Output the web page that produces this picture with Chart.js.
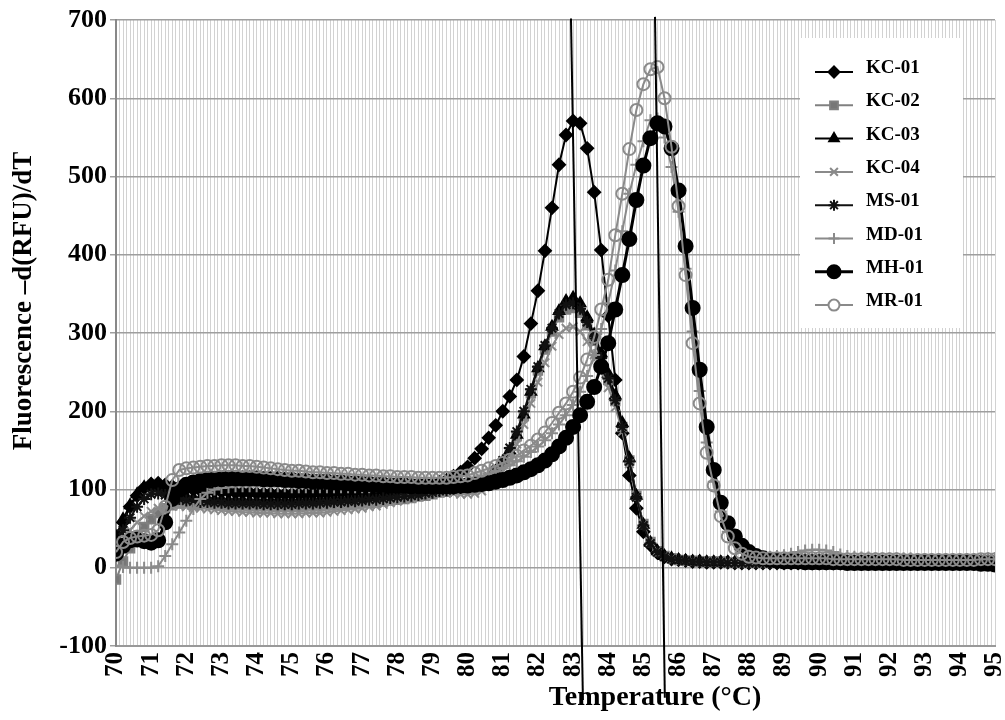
<!DOCTYPE html>
<html>
<head>
<meta charset="utf-8">
<script src="https://cdn.jsdelivr.net/npm/chart.js@4"></script>
<style>
  html, body { margin: 0; padding: 0; background: #fff; }
  #wrap { width: 1005px; height: 720px; }
</style>
</head>
<body>
<div id="wrap"><canvas id="meltChart" width="1005" height="720"></canvas></div>
<script>
  /* temperature steps (°C) */
  const temps = [
    70.0, 70.2, 70.4, 70.6, 70.8, 71.0, 71.2, 71.4, 71.6, 71.8,
    72.0, 72.2, 72.4, 72.6, 72.8, 73.0, 73.2, 73.4, 73.6, 73.8,
    74.0, 74.2, 74.4, 74.6, 74.8, 75.0, 75.2, 75.4, 75.6, 75.8,
    76.0, 76.2, 76.4, 76.6, 76.8, 77.0, 77.2, 77.4, 77.6, 77.8,
    78.0, 78.2, 78.4, 78.6, 78.8, 79.0, 79.2, 79.4, 79.6, 79.8,
    80.0, 80.2, 80.4, 80.6, 80.8, 81.0, 81.2, 81.4, 81.6, 81.8,
    82.0, 82.2, 82.4, 82.6, 82.8, 83.0, 83.2, 83.4, 83.6, 83.8,
    84.0, 84.2, 84.4, 84.6, 84.8, 85.0, 85.2, 85.4, 85.6, 85.8,
    86.0, 86.2, 86.4, 86.6, 86.8, 87.0, 87.2, 87.4, 87.6, 87.8,
    88.0, 88.2, 88.4, 88.6, 88.8, 89.0, 89.2, 89.4, 89.6, 89.8,
    90.0, 90.2, 90.4, 90.6, 90.8, 91.0, 91.2, 91.4, 91.6, 91.8,
    92.0, 92.2, 92.4, 92.6, 92.8, 93.0, 93.2, 93.4, 93.6, 93.8,
    94.0, 94.2, 94.4, 94.6, 94.8, 95.0
  ];

  // -d(RFU)/dT per sample
  const kc01 = [
    35, 58, 78, 92, 102, 107, 108, 106, 104, 102,
    101, 100, 99, 98, 98, 97, 97, 96, 96, 96,
    95, 95, 95, 94, 94, 94, 94, 94, 95, 95,
    95, 96, 96, 97, 97, 98, 98, 99, 99, 100,
    100, 101, 101, 102, 104, 106, 109, 112, 117, 122,
    129, 140, 152, 166, 182, 200, 219, 240, 270, 312,
    354, 405, 460, 515, 553, 571, 568, 536, 480, 406,
    322, 240, 172, 118, 76, 46, 29, 19, 14, 11,
    10, 9, 8, 8, 7, 7, 7, 7, 6, 6,
    6, 6, 6, 6, 6, 6, 6, 6, 6, 6,
    6, 6, 6, 6, 7, 7, 7, 7, 7, 7,
    7, 7, 7, 8, 8, 8, 8, 8, 8, 8,
    8, 8, 8, 8, 8, 8
  ];
  const kc02 = [
    -15, 8, 25, 40, 52, 62, 70, 76, 80, 82,
    83, 83, 82, 82, 81, 81, 80, 80, 80, 79,
    79, 79, 79, 78, 78, 78, 78, 79, 79, 79,
    80, 80, 81, 81, 82, 83, 83, 84, 85, 86,
    87, 88, 89, 91, 92, 94, 96, 97, 99, 100,
    102, 104, 108, 114, 122, 133, 148, 168, 194, 223,
    252, 279, 302, 320, 330, 332, 326, 310, 290, 266,
    240, 213, 180, 137, 92, 56, 33, 21, 15, 12,
    10, 9, 9, 8, 8, 8, 8, 7, 7, 7,
    7, 7, 7, 7, 7, 7, 7, 7, 7, 7,
    8, 8, 8, 8, 8, 8, 8, 8, 8, 8,
    8, 8, 8, 8, 8, 9, 9, 9, 9, 9,
    9, 9, 9, 9, 9, 9
  ];
  const kc03 = [
    40, 62, 80, 94, 103, 106, 102, 97, 94, 92,
    90, 89, 88, 88, 87, 87, 86, 86, 86, 85,
    85, 85, 85, 85, 85, 85, 85, 86, 86, 86,
    87, 87, 88, 88, 89, 89, 90, 90, 91, 92,
    92, 93, 94, 95, 96, 97, 98, 99, 100, 101,
    102, 105, 109, 115, 123, 135, 150, 170, 196, 225,
    255, 283, 308, 328, 341, 345, 338, 320, 298, 274,
    248, 220, 185, 140, 92, 55, 32, 21, 15, 12,
    10, 9, 8, 8, 7, 7, 7, 7, 7, 7,
    7, 7, 7, 7, 7, 7, 7, 7, 7, 7,
    7, 7, 7, 7, 7, 8, 8, 8, 8, 8,
    8, 8, 8, 8, 8, 8, 9, 9, 9, 9,
    9, 9, 9, 9, 9, 9
  ];
  const kc04 = [
    20, 35, 48, 58, 66, 72, 76, 78, 79, 79,
    78, 77, 76, 75, 74, 73, 72, 72, 71, 71,
    70, 70, 70, 69, 69, 69, 69, 70, 70, 70,
    71, 72, 73, 74, 75, 76, 78, 79, 81, 83,
    85, 87, 89, 91, 93, 95, 96, 96, 95, 94,
    94, 95, 98, 104, 112, 123, 138, 158, 183, 210,
    237, 262, 283, 298, 306, 308, 302, 289, 272, 252,
    230, 205, 174, 133, 90, 55, 33, 21, 15, 12,
    10, 9, 9, 8, 8, 8, 8, 8, 7, 7,
    7, 7, 7, 7, 7, 7, 7, 7, 7, 7,
    7, 7, 8, 8, 8, 8, 8, 8, 8, 8,
    8, 8, 8, 8, 8, 8, 8, 8, 9, 9,
    9, 9, 9, 9, 9, 9
  ];
  const ms01 = [
    30, 48, 64, 78, 88, 94, 95, 93, 90, 88,
    86, 85, 84, 84, 83, 83, 82, 82, 82, 82,
    82, 81, 81, 81, 81, 81, 82, 82, 82, 83,
    83, 84, 84, 85, 85, 86, 87, 87, 88, 89,
    90, 91, 92, 93, 95, 96, 98, 99, 101, 102,
    104, 106, 110, 116, 125, 137, 153, 174, 200, 228,
    257, 284, 306, 325, 336, 338, 331, 314, 293, 268,
    242, 214, 180, 136, 90, 54, 31, 20, 14, 11,
    10, 9, 8, 8, 7, 7, 7, 6, 6, 6,
    6, 6, 6, 6, 6, 6, 6, 6, 6, 6,
    6, 6, 6, 6, 6, 6, 6, 7, 7, 7,
    7, 7, 7, 7, 7, 7, 7, 7, 7, 7,
    7, 7, 7, 7, 7, 7
  ];
  const md01 = [
    3, 1, 0, 0, 0, 0, 2, 15, 30, 45,
    60, 75, 88, 96, 100, 102, 103, 104, 104, 104,
    104, 104, 104, 104, 104, 103, 103, 103, 103, 103,
    103, 103, 103, 103, 103, 103, 103, 104, 104, 104,
    105, 105, 106, 106, 107, 108, 109, 110, 111, 112,
    113, 115, 117, 120, 123, 127, 131, 136, 142, 148,
    155, 163, 172, 183, 195, 208, 225, 245, 272, 305,
    338, 380, 430, 478, 515, 545, 572, 574, 550, 512,
    455, 382, 302, 226, 160, 110, 72, 46, 30, 22,
    18, 15, 14, 14, 15, 16, 18, 20, 22, 23,
    23, 22, 20, 17, 15, 14, 13, 13, 12, 12,
    12, 12, 12, 12, 11, 11, 11, 11, 11, 11,
    11, 11, 11, 11, 12, 12
  ];
  const mh01 = [
    18, 28, 35, 36, 34, 32, 35, 58, 88, 100,
    106, 109, 111, 112, 113, 113, 114, 114, 114, 114,
    114, 113, 113, 113, 112, 112, 111, 111, 110, 110,
    110, 109, 109, 108, 108, 107, 107, 106, 106, 105,
    105, 105, 104, 104, 104, 104, 104, 104, 104, 105,
    105, 106, 107, 108, 110, 112, 115, 118, 122, 126,
    131, 137, 145, 155, 166, 180, 195, 212, 231, 257,
    287, 330, 374, 420, 470, 514, 549, 568, 564, 536,
    482, 411, 332, 253, 180, 125, 83, 57, 40, 28,
    20, 15, 12, 10, 9, 8, 8, 8, 7, 7,
    7, 7, 7, 7, 6, 6, 6, 6, 6, 6,
    6, 6, 6, 6, 6, 6, 6, 6, 6, 6,
    6, 6, 6, 5, 5, 4
  ];
  const mr01 = [
    20, 33, 38, 40, 41, 42, 48, 78, 112, 125,
    127, 128, 129, 130, 130, 131, 131, 131, 130, 130,
    129, 128, 127, 126, 125, 124, 124, 123, 122, 122,
    121, 121, 120, 120, 119, 119, 118, 118, 117, 117,
    116, 116, 116, 115, 115, 115, 115, 115, 116, 117,
    118, 121, 124, 127, 130, 134, 138, 143, 150, 156,
    164, 173, 185, 198, 210, 225, 243, 266, 295, 330,
    368, 425, 478, 535, 585, 618, 637, 640, 600, 538,
    462, 374, 287, 210, 147, 105, 66, 40, 25, 18,
    14, 13, 12, 12, 12, 12, 12, 12, 12, 12,
    12, 12, 11, 11, 11, 11, 11, 11, 11, 11,
    11, 11, 10, 10, 10, 10, 10, 10, 10, 10,
    10, 10, 10, 11, 11, 11
  ];

  // hand drawn Tm marker lines (end points, data units)
  const tmLineA = [{ x: 82.94, y: 702 }, { x: 83.28, y: -169 }];
  const tmLineB = [{ x: 85.33, y: 704 }, { x: 85.61, y: -166 }];

  const yTicks = [-100, 0, 100, 200, 300, 400, 500, 600, 700];

  const SERIF = "'Liberation Serif', 'Times New Roman', serif";
  const pts = arr => temps.map((t, i) => ({ x: t, y: arr[i] }));

  const series = [
    { label: 'KC-01', data: kc01, color: '#000', fill: '#000', style: 'rectRot', r: 6, lw: 2 },
    { label: 'KC-02', data: kc02, color: '#808080', fill: '#777', style: 'rect', r: 6, lw: 2 },
    { label: 'KC-03', data: kc03, color: '#000', fill: '#000', style: 'triangle', r: 6, lw: 2 },
    { label: 'KC-04', data: kc04, color: '#8a8a8a', fill: '#8a8a8a', style: 'crossRot', r: 6, lw: 2 },
    { label: 'MS-01', data: ms01, color: '#111', fill: '#111', style: 'star', r: 6, lw: 2 },
    { label: 'MD-01', data: md01, color: '#8a8a8a', fill: '#8a8a8a', style: 'cross', r: 6, lw: 2 },
    { label: 'MH-01', data: mh01, color: '#000', fill: '#000', style: 'circle', r: 7, lw: 3 },
    { label: 'MR-01', data: mr01, color: '#8a8a8a', fill: 'rgba(255,255,255,0)', style: 'circle', r: 6, lw: 2 }
  ];

  const datasets = series.map((s, i) => ({
    label: s.label,
    data: pts(s.data),
    borderColor: s.color,
    borderWidth: s.lw,
    backgroundColor: s.fill,
    pointStyle: s.style,
    pointRadius: s.r,
    pointBackgroundColor: s.fill,
    pointBorderColor: s.color,
    pointBorderWidth: 2,
    tension: 0,
    order: series.length - i
  }));

  [tmLineA, tmLineB].forEach(line => {
    datasets.push({
      label: '',
      data: line,
      borderColor: '#000',
      borderWidth: 2,
      pointRadius: 0,
      clip: false,
      order: -1
    });
  });

  /* legend box + axis titles drawn on canvas */
  const extras = {
    id: 'extras',
    afterDraw(chart) {
      const ctx = chart.ctx;
      ctx.save();

      // legend
      ctx.fillStyle = '#fff';
      ctx.fillRect(800, 38, 163, 290);
      series.forEach((s, i) => {
        const y = 72 + i * 33.3;
        ctx.strokeStyle = s.color;
        ctx.lineWidth = s.lw;
        ctx.beginPath();
        ctx.moveTo(815, y);
        ctx.lineTo(853, y);
        ctx.stroke();
        ctx.fillStyle = s.label === 'MR-01' ? '#fff' : s.fill;
        ctx.lineWidth = 2;
        Chart.helpers.drawPoint(ctx, { pointStyle: s.style, radius: s.r - 0.5, rotation: 0, borderWidth: 2 }, 834, y);
        ctx.fillStyle = '#000';
        ctx.font = 'bold 19px ' + SERIF;
        ctx.textAlign = 'left';
        ctx.textBaseline = 'alphabetic';
        ctx.fillText(s.label, 866, y + 1);
      });

      // axis titles
      ctx.fillStyle = '#000';
      ctx.textAlign = 'center';
      ctx.textBaseline = 'middle';
      ctx.font = 'bold 28px ' + SERIF;
      ctx.fillText('Temperature (°C)', 655, 698);
      ctx.translate(24, 301);
      ctx.rotate(-Math.PI / 2);
      ctx.font = 'bold 27px ' + SERIF;
      ctx.fillText('Fluorescence \u2013d(RFU)/dT', 0, 0);
      ctx.restore();
    }
  };

  const ctx = document.getElementById('meltChart').getContext('2d');
  new Chart(ctx, {
    type: 'line',
    data: { datasets },
    options: {
      responsive: false,
      animation: false,
      layout: { padding: { left: 0, right: 10, top: 20, bottom: 0 } },
      plugins: {
        legend: { display: false },
        tooltip: { enabled: false }
      },
      scales: {
        x: {
          type: 'linear',
          min: 70,
          max: 95,
          afterFit: scale => {
            scale.height = 74;
            scale.paddingLeft = 0;
            scale.paddingRight = 0;
          },
          border: { color: '#999', width: 2 },
          grid: { color: '#d2d2d2', lineWidth: 1, drawTicks: false },
          ticks: {
            stepSize: 0.1,
            autoSkip: false,
            minRotation: 90,
            maxRotation: 90,
            padding: 6,
            color: '#000',
            font: { family: SERIF, size: 25, weight: 'bold' },
            callback: v => Math.abs(v - Math.round(v)) < 1e-6 ? String(Math.round(v)) : ''
          }
        },
        y: {
          min: -100,
          max: 700,
          afterFit: scale => { scale.width = 116; },
          afterBuildTicks: scale => { scale.ticks = yTicks.map(v => ({ value: v })); },
          border: { color: '#888', width: 2 },
          grid: { color: '#9e9e9e', lineWidth: 1.5, tickLength: 6 },
          ticks: {
            padding: 3,
            color: '#000',
            font: { family: SERIF, size: 26, weight: 'bold' }
          }
        }
      }
    },
    plugins: [extras]
  });
</script>
</body>
</html>
